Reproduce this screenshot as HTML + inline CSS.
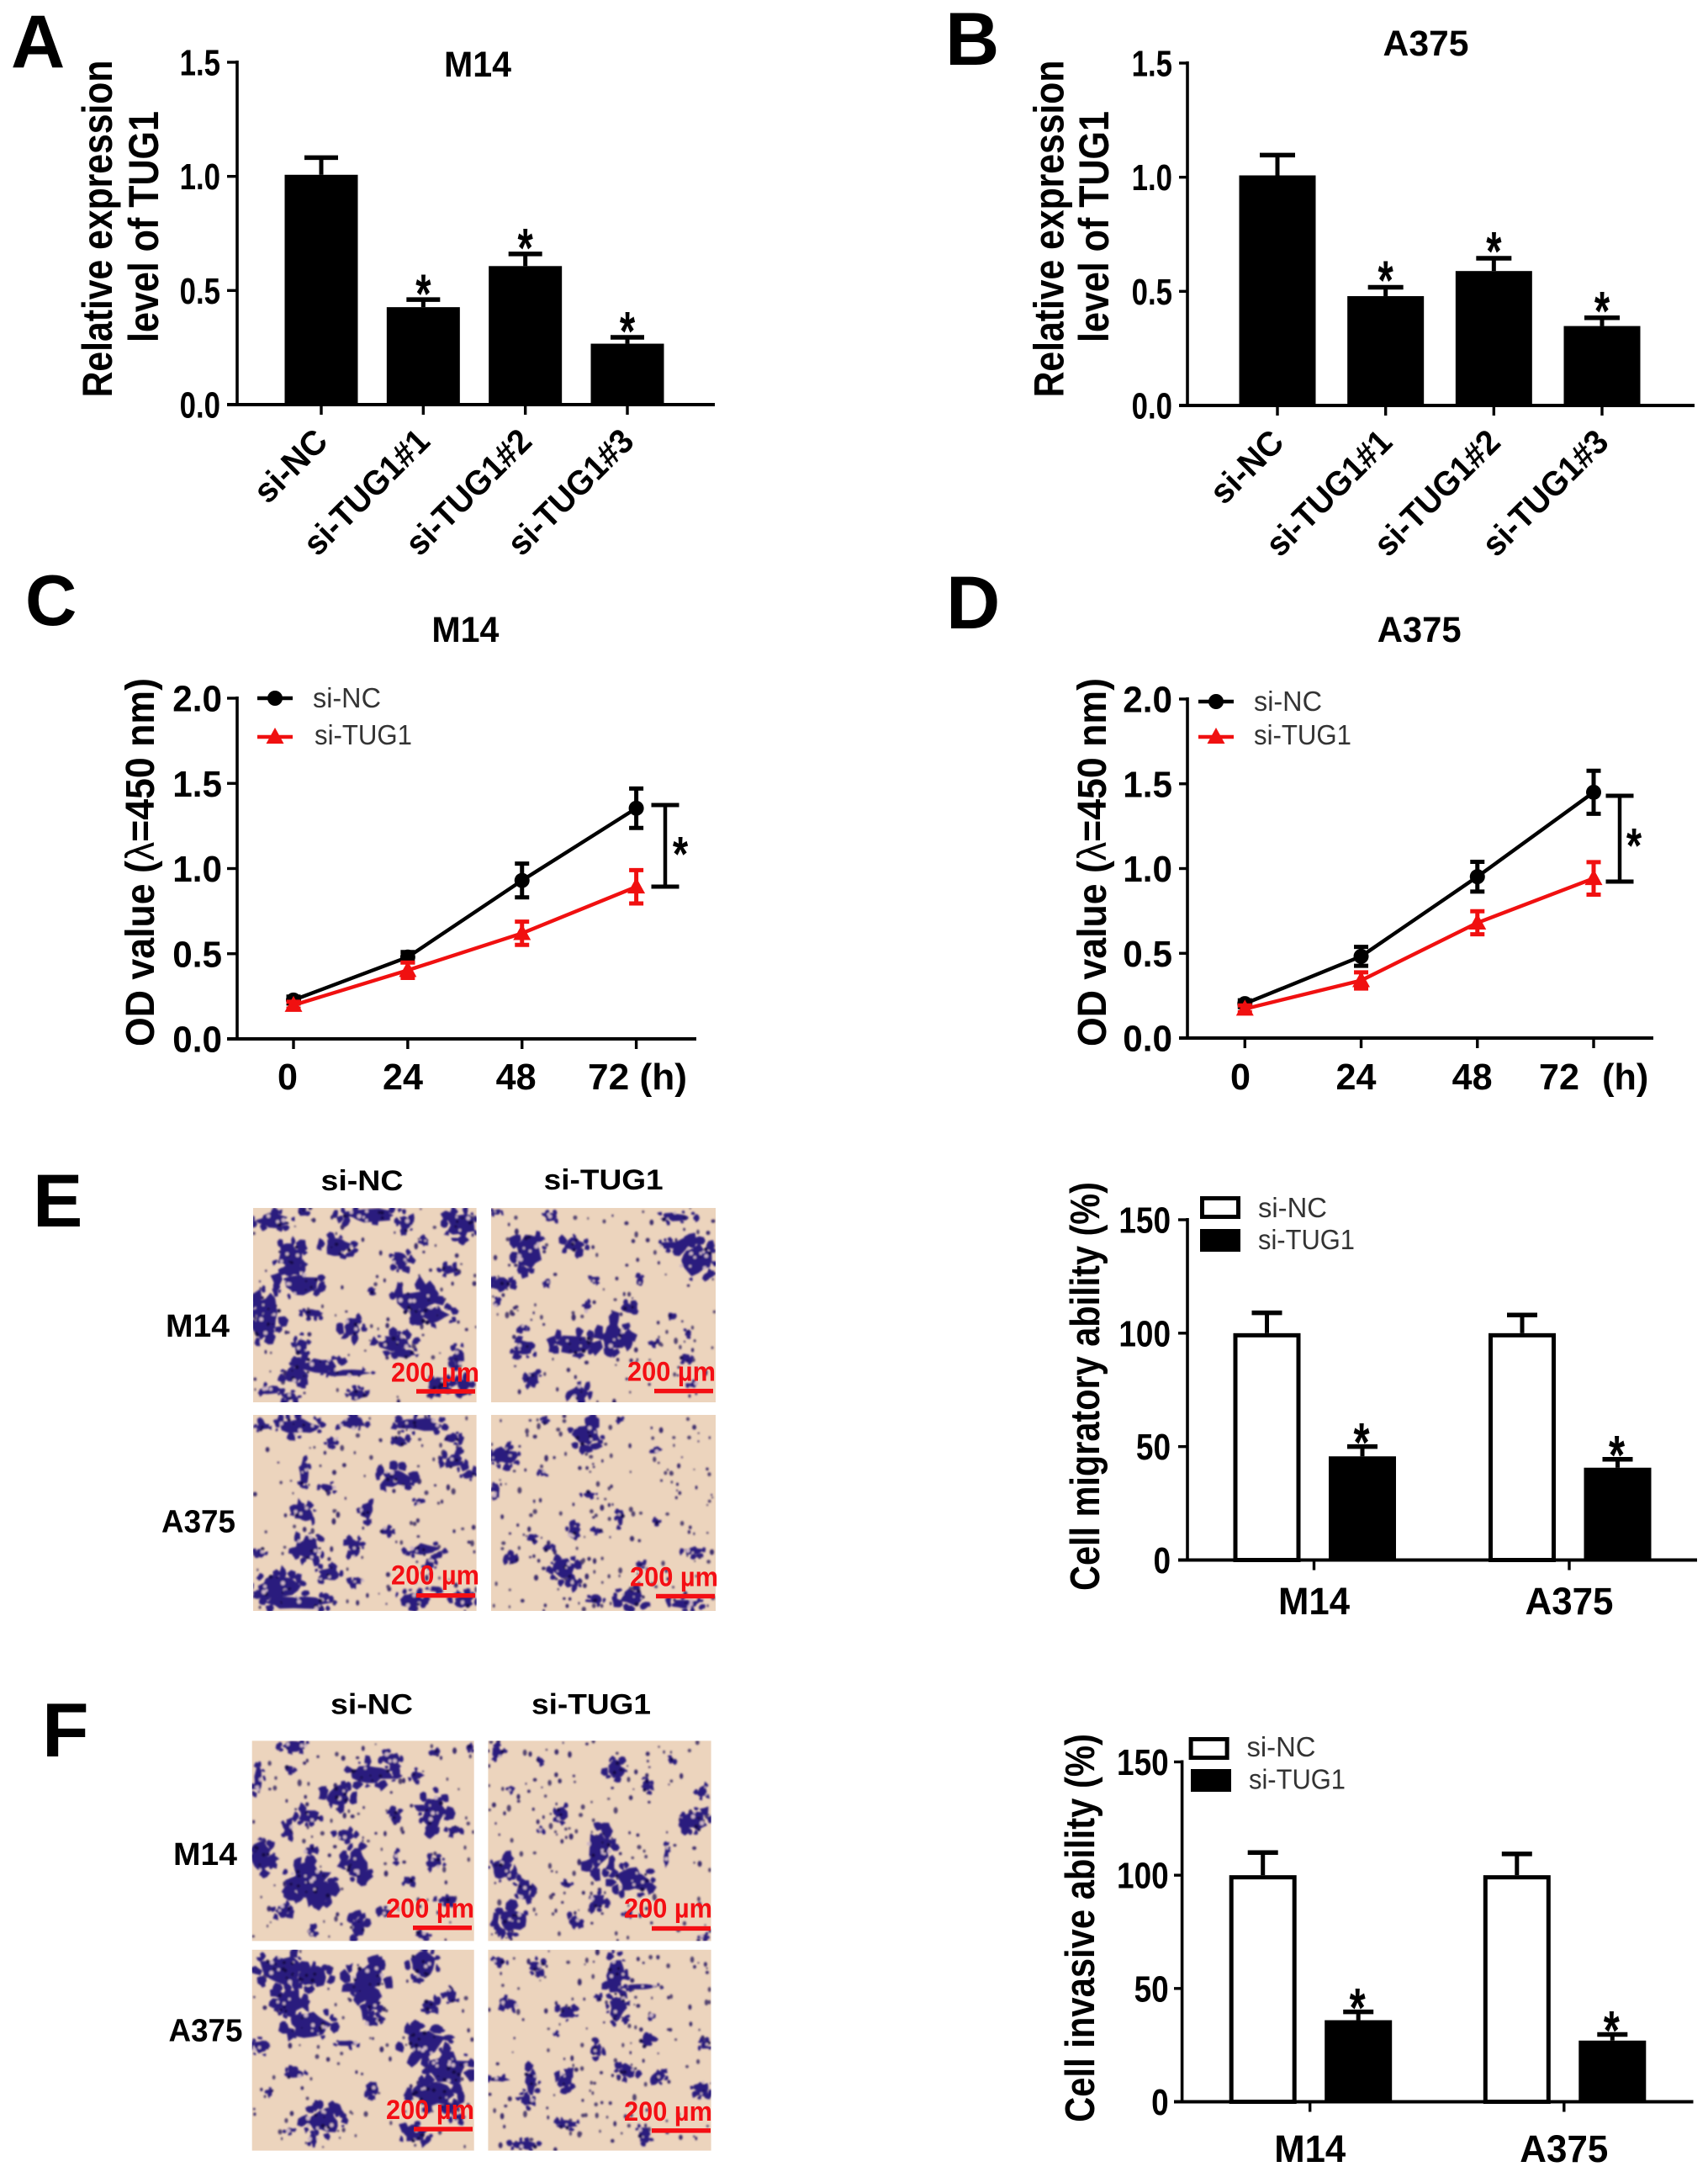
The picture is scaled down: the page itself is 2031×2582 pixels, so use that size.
<!DOCTYPE html>
<html lang="en">
<head>
<meta charset="utf-8">
<title>TUG1 knockdown figure</title>
<style>
html,body{margin:0;padding:0;background:#fff}
svg{display:block}
text{font-family:"Liberation Sans",Arial,sans-serif}
</style>
</head>
<body>
<svg id="figure" xmlns="http://www.w3.org/2000/svg" width="2031" height="2582" viewBox="0 0 2031 2582">
<rect width="2031" height="2582" fill="#fff"/>
<defs><filter id="soft" x="-5%" y="-5%" width="110%" height="110%"><feGaussianBlur stdDeviation="1.1"/></filter></defs>
</svg>
<script>
/* ---------- chart data ---------- */
const expressionCategories = ['si-NC','si-TUG1#1','si-TUG1#2','si-TUG1#3'];
const expressionTicks = ['0.0','0.5','1.0','1.5'];
const panelAValues = [1.007,0.427,0.607,0.267];
const panelAErrors = [0.075,0.033,0.053,0.028];
const panelBValues = [1.008,0.479,0.589,0.348];
const panelBErrors = [0.089,0.039,0.056,0.036];

const odTimepoints = [0,24,48,72];
const odTicks = ['0.0','0.5','1.0','1.5','2.0'];
const panelCControl = [0.228,0.48,0.93,1.354];
const panelCControlErr = [0.02,0.03,0.099,0.116];
const panelCTreated = [0.198,0.403,0.62,0.893];
const panelCTreatedErr = [0.02,0.045,0.068,0.098];
const panelDControl = [0.203,0.482,0.952,1.45];
const panelDControlErr = [0.02,0.056,0.088,0.127];
const panelDTreated = [0.172,0.34,0.68,0.942];
const panelDTreatedErr = [0.02,0.048,0.068,0.096];

const abilityGroups = ['M14','A375'];
const abilityTicks = ['0','50','100','150'];
const migrationControl = [100,100];
const migrationControlErr = [9,8];
const migrationTreated = [45.7,40.7];
const migrationTreatedErr = [4.3,3.7];
const invasionControl = [100,100];
const invasionControlErr = [10,9.4];
const invasionTreated = [36,27];
const invasionTreatedErr = [3.7,2.7];

/* ---------- micrograph cluster sketches: [x, y, rx, ry] in a 0-1568 sketch grid ---------- */
const clustersE1 = [[565,280,40,25],[630,258,15,12],[770,265,70,22],[840,290,15,25],[955,295,32,42],[700,360,35,28],[600,390,30,45],[620,470,45,40],[555,560,30,70],[545,600,20,50],[650,560,25,15],[625,660,15,35],[660,720,50,30],[610,745,25,30],[720,740,50,12],[730,600,22,35],[830,400,20,30],[930,430,20,15],[860,530,45,50],[900,565,40,30],[820,650,40,30],[845,680,20,15],[770,490,10,10],[910,775,25,25],[950,690,15,35],[740,805,20,20],[560,790,25,15],[600,810,20,15],[880,345,10,15],[960,780,15,30]];
const clustersE2 = [[1095,375,30,55],[1190,355,25,25],[1140,270,15,15],[1400,270,40,15],[1440,400,38,55],[1030,255,10,10],[1040,475,22,25],[1385,355,20,15],[1190,650,45,35],[1272,630,30,45],[1088,665,25,25],[1105,760,15,25],[1200,800,22,25],[1350,650,12,10],[1300,545,14,20],[1215,540,6,20],[1325,465,8,20],[1230,460,8,15],[1130,470,8,8],[1425,620,8,12],[1420,695,12,15],[1435,775,10,10],[1085,605,10,12],[1030,530,8,12],[1390,565,8,8]];
const clustersE3 = [[620,900,45,30],[690,945,15,15],[730,890,30,20],[870,895,50,25],[830,945,15,20],[935,935,18,18],[940,1005,25,25],[970,1045,15,15],[820,1055,35,35],[630,1040,12,40],[680,1085,18,15],[630,1165,22,28],[760,1155,15,30],[870,1125,12,10],[800,1215,15,12],[640,1265,30,40],[680,1345,25,25],[735,1265,15,30],[880,1270,40,20],[890,1315,12,25],[575,1380,50,35],[620,1430,70,25],[540,1280,12,15],[850,1420,30,25],[960,1425,25,25],[900,1390,15,10],[740,1365,15,15],[545,900,15,15]];
const clustersE4 = [[1045,990,28,30],[1215,925,32,40],[1130,885,10,10],[1285,880,8,8],[1355,975,12,8],[1030,1095,8,30],[1125,1040,8,12],[1220,1105,15,10],[1285,1175,8,30],[1190,1220,15,25],[1240,1215,12,10],[1100,1235,10,15],[1435,1275,22,15],[1065,1300,15,20],[1135,1265,12,10],[1170,1330,28,35],[1190,1370,12,15],[1310,1415,35,30],[1420,1435,35,18],[1235,1420,15,15],[1325,1315,10,12],[1360,1185,5,10]];
const clustersF1 = [[610,250,30,18],[535,360,12,50],[700,400,30,35],[770,335,50,35],[810,290,20,25],[860,340,12,20],[900,450,28,60],[640,465,25,25],[597,510,12,25],[715,525,22,18],[820,470,15,25],[900,610,20,20],[540,590,25,50],[640,665,50,55],[670,700,25,35],[740,610,28,50],[920,730,18,18],[845,665,12,15],[585,760,18,25],[740,810,20,35],[645,825,10,18],[875,835,15,15],[640,575,12,15],[820,590,6,20],[975,250,6,15],[900,270,8,10],[600,320,10,10],[940,510,15,15],[800,765,15,15]];
const clustersF2 = [[1275,320,20,30],[1120,295,8,10],[1340,370,10,25],[1390,295,8,10],[1030,270,15,20],[1440,480,28,35],[1455,390,12,20],[1240,570,30,70],[1165,460,15,25],[1310,665,40,45],[1040,630,25,35],[1085,690,18,35],[1240,730,18,25],[1060,790,32,42],[1190,790,14,20],[1175,680,10,8],[1120,510,5,10],[1060,380,8,8],[1300,770,10,10],[1380,590,3,40],[1455,840,12,10]];
const clustersF3 = [[580,940,45,55],[650,965,35,35],[600,1040,30,45],[640,1110,50,45],[760,970,40,55],[770,1040,20,35],[770,1100,20,20],[875,925,30,45],[890,1050,20,20],[935,1020,15,25],[880,1170,50,50],[930,1250,45,60],[900,1330,50,45],[670,1410,40,45],[650,1470,10,25],[540,1180,20,25],[610,1265,22,15],[770,1310,15,25],[720,1170,25,10],[560,1320,5,10],[600,1440,10,10],[860,1450,30,30],[950,1400,15,15]];
const clustersF4 = [[1110,930,18,22],[1035,915,15,15],[1275,960,20,70],[1280,1060,20,50],[1330,995,40,8],[1055,1050,18,18],[1175,1075,20,22],[1240,1030,6,15],[1460,1175,12,15],[1340,1165,15,18],[1235,1190,15,25],[1300,1255,22,25],[1365,1270,15,22],[1100,1290,15,45],[1090,1345,15,22],[1170,1285,18,28],[1035,1280,25,8],[1175,1420,25,15],[1335,1450,15,30],[1085,1485,30,15],[1455,1310,20,25],[1150,1140,5,8],[1350,1085,10,8]];

/* ---------- helpers ---------- */
const NS = 'http://www.w3.org/2000/svg';
const root = document.getElementById('figure');

function make(parent, tag, name, attrs) {
  const el = document.createElementNS(NS, tag);
  
  
  for (const k in attrs) el.setAttribute(k, attrs[k]);
  parent.appendChild(el);
  return el;
}
function group(name) { return make(root, 'g', name, {}); }
function label(parent, name, str, x, y, size, o) {
  o = o || {};
  const el = make(parent, 'text', name, {
    x: 0, y: 0, 'font-size': size,
    'font-weight': o.weight || 'bold',
    'text-anchor': o.anchor || 'middle',
    fill: o.fill || '#000'
  });
  el.innerHTML = str;
  let sx = o.sx || 1;
  if (o.width) sx = o.width / el.getComputedTextLength();
  el.setAttribute('transform', 'translate(' + x + ' ' + y + ') rotate(' + (o.rot || 0) + ') scale(' + sx + ' ' + (o.sy || 1) + ')');
  return el;
}
function line(parent, name, x1, y1, x2, y2, color, w) {
  return make(parent, 'line', name, { x1: x1, y1: y1, x2: x2, y2: y2, stroke: color, 'stroke-width': w });
}
function box(parent, name, x, y, w, h, fill, stroke, sw) {
  const a = { x: x, y: y, width: w, height: h, fill: fill };
  if (stroke) { a.stroke = stroke; a['stroke-width'] = sw; }
  return make(parent, 'rect', name, a);
}
function star(parent, name, cx, cy, size, sy) {
  const el = make(parent, 'text', name, { x: 0, y: size * 0.42, 'font-size': size, 'font-weight': 'bold', 'text-anchor': 'middle', fill: '#000' });
  el.textContent = '*';
  el.setAttribute('transform', 'translate(' + cx + ' ' + cy + ') scale(1 ' + sy + ')');
  return el;
}
function linearScale(d0, d1, r0, r1) { return function (v) { return r0 + (v - d0) / (d1 - d0) * (r1 - r0); }; }
function yAxis(g, xAxis, tickLeft, ticks, y, cfg) {
  line(g, 'y-axis-line', xAxis, y(+ticks[ticks.length - 1]) - 2, xAxis, y(+ticks[0]) + 2, '#000', 3.6);
  ticks.forEach(function (t) {
    line(g, 'y-axis-tick', tickLeft, y(+t), xAxis, y(+t), '#000', 3.4);
    label(g, 'y-tick-label', t, cfg.right, y(+t) + 15.5, 44, { anchor: 'end', sx: cfg.sx });
  });
}

/* ---------- panel letters ---------- */
const letters = group('panel-letters');
label(letters, 'panel-label-a', 'A', 13, 80, 89, { anchor: 'start' });
label(letters, 'panel-label-b', 'B', 1124, 77, 89, { anchor: 'start' });
label(letters, 'panel-label-c', 'C', 30, 743, 85, { anchor: 'start' });
label(letters, 'panel-label-d', 'D', 1125, 747, 89, { anchor: 'start' });
label(letters, 'panel-label-e', 'E', 39, 1458, 89, { anchor: 'start' });
label(letters, 'panel-label-f', 'F', 50, 2088, 91, { anchor: 'start' });

/* ---------- expression bar charts (A, B) ---------- */
function expressionChart(cfg, values, errors) {
  const g = group(cfg.name);
  const y = linearScale(0, 1.5, cfg.y0, cfg.y15);
  const x = linearScale(0, 3, cfg.first, cfg.last);
  label(g, 'chart-title', cfg.title, cfg.titleX, cfg.titleY, 43, { width: cfg.titleW });
  label(g, 'y-axis-title-line-1', 'Relative expression', cfg.t1x, 272, 50, { rot: -90, width: 401 });
  label(g, 'y-axis-title-line-2', 'level of TUG1', cfg.t2x, 269.5, 50, { rot: -90, width: 275 });
  expressionCategories.forEach(function (c, i) {
    const cx = x(i);
    const top = y(values[i]);
    const et = y(values[i] + errors[i]);
    line(g, 'error-bar-stem', cx, top, cx, et, '#000', 5);
    line(g, 'error-bar-cap', cx - cfg.cap / 2, et, cx + cfg.cap / 2, et, '#000', 5.5);
    box(g, 'bar-' + c, cx - cfg.bw / 2, top, cfg.bw, cfg.y0 - top, '#000');
    if (i > 0) star(g, 'significance-star', cx, et - cfg.starGap, 47, 1.4);
    line(g, 'x-axis-tick', cx, cfg.y0, cx, cfg.y0 + 12, '#000', 3.4);
    label(g, 'x-tick-label', c, cx + 10, cfg.y0 + 46, 41, { anchor: 'end', rot: -45, width: i === 0 ? 104 : 192 });
  });
  line(g, 'x-axis-line', cfg.tickLeft, cfg.y0, cfg.right, cfg.y0, '#000', 4);
  yAxis(g, cfg.axisX, cfg.tickLeft, expressionTicks, y, { right: cfg.labelRight, sx: 0.79 });
}
expressionChart({ name: 'panel-a-chart', title: 'M14', titleX: 568, titleY: 91, titleW: 80, y0: 481, y15: 74, first: 382, last: 746, bw: 87, cap: 40, axisX: 282, tickLeft: 270, right: 850, labelRight: 262, t1x: 133, t2x: 188, starGap: 12 }, panelAValues, panelAErrors);
expressionChart({ name: 'panel-b-chart', title: 'A375', titleX: 1695.5, titleY: 66, titleW: 102, y0: 482, y15: 75, first: 1519, last: 1905, bw: 91, cap: 42, axisX: 1412, tickLeft: 1402, right: 2015, labelRight: 1394, t1x: 1264.5, t2x: 1318, starGap: 13 }, panelBValues, panelBErrors);

/* ---------- OD line charts (C, D) ---------- */
function series(g, name, x, y, vals, errs, color, shape) {
  const pts = vals.map(function (v, i) { return x(odTimepoints[i]) + ',' + y(v); }).join(' ');
  make(g, 'polyline', name + '-line', { points: pts, fill: 'none', stroke: color, 'stroke-width': 4.4 });
  vals.forEach(function (v, i) {
    const cx = x(odTimepoints[i]);
    const hi = y(v + errs[i]);
    const lo = y(v - errs[i]);
    line(g, name + '-error-stem', cx, hi, cx, lo, color, 5);
    line(g, name + '-error-cap-top', cx - 8.5, hi, cx + 8.5, hi, color, 5);
    line(g, name + '-error-cap-bottom', cx - 8.5, lo, cx + 8.5, lo, color, 5);
    marker(g, name + '-point', cx, y(v), color, shape);
  });
}
function marker(g, name, cx, cy, color, shape) {
  if (shape === 'circle') make(g, 'circle', name, { cx: cx, cy: cy, r: 9, fill: color });
  else make(g, 'polygon', name, { points: (cx - 10.5) + ',' + (cy + 8) + ' ' + (cx + 10.5) + ',' + (cy + 8) + ' ' + cx + ',' + (cy - 11), fill: color });
}
function odChart(cfg, a, aErr, b, bErr) {
  const g = group(cfg.name);
  const y = linearScale(0, 2, cfg.y0, cfg.y2);
  const x = linearScale(0, 72, cfg.first, cfg.last);
  label(g, 'chart-title', cfg.title, cfg.titleX, 763, 43, { width: cfg.titleW });
  label(g, 'y-axis-title', 'OD value (<tspan font-weight="normal">λ</tspan>=450 nm)', cfg.tx, 1025, 48, { rot: -90, width: 438 });
  line(g, 'x-axis-line', cfg.tickLeft, cfg.y0, cfg.right, cfg.y0, '#000', 4);
  yAxis(g, cfg.axisX, cfg.tickLeft, odTicks, y, { right: cfg.labelRight, sx: 0.96 });
  odTimepoints.forEach(function (t, i) {
    line(g, 'x-axis-tick', x(t), cfg.y0, x(t), cfg.y0 + 12, '#000', 3.4);
    if (i < 3 || !cfg.joined) label(g, 'x-tick-label', String(t), cfg.xl[i], 1295, 44, { sx: 0.98 });
  });
  if (cfg.joined) label(g, 'x-tick-label-with-unit', '72 (h)', cfg.xl[3], 1295, 44, { width: 118 });
  else label(g, 'x-axis-unit', '(h)', cfg.unitX, 1295, 44, { sx: 0.98 });
  series(g, 'si-nc', x, y, a, aErr, '#000', 'circle');
  series(g, 'si-tug1', x, y, b, bErr, '#f01010', 'triangle');
  const bx = cfg.bracketX, by1 = cfg.bracketTop, by2 = cfg.bracketBottom;
  line(g, 'significance-bracket-stem', bx, by1, bx, by2, '#000', 4.5);
  line(g, 'significance-bracket-cap', bx - 16.5, by1, bx + 16.5, by1, '#000', 5);
  line(g, 'significance-bracket-cap', bx - 16.5, by2, bx + 16.5, by2, '#000', 5);
  star(g, 'significance-star', cfg.starX, cfg.starY, 47, 1.25);
  const lx1 = cfg.legX, lx2 = cfg.legX + 42;
  line(g, 'legend-line-si-nc', lx1, cfg.legY1, lx2, cfg.legY1, '#000', 4.4);
  marker(g, 'legend-marker-si-nc', (lx1 + lx2) / 2, cfg.legY1, '#000', 'circle');
  line(g, 'legend-line-si-tug1', lx1, cfg.legY2, lx2, cfg.legY2, '#f01010', 4.4);
  marker(g, 'legend-marker-si-tug1', (lx1 + lx2) / 2, cfg.legY2, '#f01010', 'triangle');
  label(g, 'legend-label-si-nc', 'si-NC', cfg.legT1, cfg.legY1 + 11, 33, { anchor: 'start', weight: 'normal', fill: '#333', width: 81 });
  label(g, 'legend-label-si-tug1', 'si-TUG1', cfg.legT2, 885, 33, { anchor: 'start', weight: 'normal', fill: '#333', width: 116 });
}
odChart({ name: 'panel-c-chart', title: 'M14', titleX: 553.4, titleW: 80, y0: 1235, y2: 830, first: 349, last: 756.6, axisX: 282, tickLeft: 270, right: 828, labelRight: 264, tx: 183, xl: [342, 479, 613.6, 758], joined: true, bracketX: 791, bracketTop: 957, bracketBottom: 1054, starX: 809, starY: 1011, legX: 306, legY1: 830, legY2: 876, legT1: 372, legT2: 374 }, panelCControl, panelCControlErr, panelCTreated, panelCTreatedErr);
odChart({ name: 'panel-d-chart', title: 'A375', titleX: 1687.7, titleW: 100, y0: 1234, y2: 831, first: 1480.3, last: 1895, axisX: 1412, tickLeft: 1402, right: 1966, labelRight: 1394, tx: 1315, xl: [1475, 1612.5, 1750.6, 1854], joined: false, unitX: 1932.7, bracketX: 1926, bracketTop: 946, bracketBottom: 1048, starX: 1943, starY: 1001, legX: 1425, legY1: 834, legY2: 876, legT1: 1491, legT2: 1491 }, panelDControl, panelDControlErr, panelDTreated, panelDTreatedErr);

/* ---------- ability bar charts (E, F) ---------- */
function abilityChart(cfg, ctrl, ctrlErr, trt, trtErr) {
  const g = group(cfg.name);
  const y = linearScale(0, 150, cfg.y0, cfg.y150);
  const x = linearScale(0, 1, cfg.tick0, cfg.tick1);
  label(g, 'y-axis-title', cfg.ytitle, cfg.tx, cfg.tcy, 49, { rot: -90, width: cfg.tw });
  abilityGroups.forEach(function (name, i) {
    const c = x(i);
    const cxA = c - 56, cxB = c + 57.5;
    const topA = y(ctrl[i]), topB = y(trt[i]);
    const eA = y(ctrl[i] + ctrlErr[i]), eB = y(trt[i] + trtErr[i]);
    line(g, 'error-bar-stem', cxA, topA, cxA, eA, '#000', 5);
    line(g, 'error-bar-cap', cxA - 18, eA, cxA + 18, eA, '#000', 5.5);
    box(g, 'bar-si-nc-' + name, cxA - 37.5, topA + 2.5, 75, cfg.y0 - topA - 2.5, '#fff', '#000', 5);
    line(g, 'error-bar-stem', cxB, topB, cxB, eB, '#000', 5);
    line(g, 'error-bar-cap', cxB - 18, eB, cxB + 18, eB, '#000', 5.5);
    box(g, 'bar-si-tug1-' + name, cxB - 40, topB, 80, cfg.y0 - topB, '#000');
    star(g, 'significance-star', cxB - 1, eB - 10, 49, 1.35);
    line(g, 'x-axis-tick', c, cfg.y0, c, cfg.y0 + 12, '#000', 3.4);
    label(g, 'x-tick-label', name, c, cfg.labelY, 45, { width: i === 0 ? 85 : 105 });
  });
  line(g, 'x-axis-line', cfg.tickLeft, cfg.y0, cfg.right, cfg.y0, '#000', 4);
  yAxis(g, cfg.axisX, cfg.tickLeft, abilityTicks, y, { right: cfg.labelRight, sx: 0.84 });
  box(g, 'legend-swatch-si-nc', cfg.s1x + 2.5, cfg.s1y + 2.5, 43, 22, '#fff', '#000', 5);
  box(g, 'legend-swatch-si-tug1', cfg.s2x, cfg.s2y, 48, 27, '#000');
  label(g, 'legend-label-si-nc', 'si-NC', cfg.l1x, cfg.l1y, 33, { anchor: 'start', weight: 'normal', fill: '#333', width: 82 });
  label(g, 'legend-label-si-tug1', 'si-TUG1', cfg.l2x, cfg.l2y, 33, { anchor: 'start', weight: 'normal', fill: '#333', width: 115 });
}
abilityChart({ name: 'panel-e-migration-chart', ytitle: 'Cell migratory ability (%)', tx: 1307, tcy: 1648, tw: 486, y0: 1854.5, y150: 1450, tick0: 1562.5, tick1: 1866, axisX: 1412, tickLeft: 1401, right: 2018, labelRight: 1392, labelY: 1919, s1x: 1427, s1y: 1422, s2x: 1427, s2y: 1461, l1x: 1496, l1y: 1447, l2x: 1496, l2y: 1485 }, migrationControl, migrationControlErr, migrationTreated, migrationTreatedErr);
abilityChart({ name: 'panel-f-invasion-chart', ytitle: 'Cell invasive ability (%)', tx: 1301, tcy: 2292, tw: 462, y0: 2498.5, y150: 2094.5, tick0: 1557.7, tick1: 1859.8, axisX: 1405.6, tickLeft: 1396, right: 2013.5, labelRight: 1389.7, labelY: 2570, s1x: 1413.6, s1y: 2065, s2x: 1416, s2y: 2103, l1x: 1482.5, l1y: 2088, l2x: 1485, l2y: 2126.5 }, invasionControl, invasionControlErr, invasionTreated, invasionTreatedErr);

/* ---------- micrographs ---------- */
function seeded(a) {
  return function () {
    a |= 0; a = a + 0x6D2B79F5 | 0;
    let t = Math.imul(a ^ a >>> 15, 1 | a);
    t = t + Math.imul(t ^ t >>> 7, 61 | t) ^ t;
    return ((t ^ t >>> 14) >>> 0) / 4294967296;
  };
}
function lump(field, rnd, cx, cy, rx, ry, n, lo, hi) {
  const pts = [];
  for (let i = 0; i < n; i++) {
    const ang = i / n * Math.PI * 2;
    const f = lo + rnd() * (hi - lo);
    pts.push((cx + Math.cos(ang) * rx * f).toFixed(1) + ',' + (cy + Math.sin(ang) * ry * f).toFixed(1));
  }
  make(field, 'polygon', 'cell-cluster-lobe', { points: pts.join(' '), fill: '#2b1b7e' });
}
function micrograph(parent, cfg) {
  const g = make(parent, 'g', cfg.name, {});
  box(g, 'micrograph-background', cfg.x, cfg.y, cfg.w, cfg.h, '#ecd4bd');
  const clipHost = make(g, 'svg', 'micrograph-field', { x: cfg.x, y: cfg.y, width: cfg.w, height: cfg.h, viewBox: '0 0 ' + cfg.w + ' ' + cfg.h });
  const field = make(clipHost, 'g', 'cell-layer', { filter: 'url(#soft)' });
  const rnd = seeded(cfg.seed);
  const kx = cfg.w / (cfg.zx1 - cfg.zx0), ky = cfg.h / (cfg.zy1 - cfg.zy0);
  for (let i = 0; i < cfg.specks; i++) {
    const r = 1 + rnd() * 1.6;
    make(field, 'ellipse', 'cell-speck', {
      cx: rnd() * cfg.w, cy: rnd() * cfg.h, rx: r, ry: r * (0.8 + rnd() * 0.9),
      fill: rnd() < 0.5 ? '#3a2a6a' : '#52436f'
    });
  }
  cfg.clusters.forEach(function (c) {
    const cx = (c[0] - cfg.zx0) * kx, cy = (c[1] - cfg.zy0) * ky;
    const rx = Math.max(c[2] * kx * 1.08, 3.5), ry = Math.max(c[3] * ky * 1.08, 3.5);
    lump(field, rnd, cx, cy, rx * 0.85, ry * 0.85, 14, 0.62, 1.12);
    const lobes = Math.min(14, Math.round(rx * ry / 28) + 2);
    for (let i = 0; i < lobes; i++) {
      const a = rnd() * Math.PI * 2;
      const px = cx + Math.cos(a) * rx * 1.0;
      const py = cy + Math.sin(a) * ry * 1.0;
      const s = 2 + rnd() * Math.min(rx, ry) * 0.3;
      lump(field, rnd, px, py, s, s * (0.7 + rnd() * 0.8), 7, 0.5, 1.3);
    }
    const area = rx * ry;
    for (let i = 0; i < area / 45; i++) {
      const a = rnd() * Math.PI * 2, d = Math.sqrt(rnd()) * 0.8;
      const light = rnd() < 0.5;
      make(field, 'circle', light ? 'cluster-gap' : 'cluster-dark-core', {
        cx: cx + Math.cos(a) * rx * d, cy: cy + Math.sin(a) * ry * d, r: 1 + rnd() * 1.6,
        fill: light ? '#cdb5c6' : '#170f4a'
      });
    }
  });
  label(g, 'scale-bar-label', '200 µm', cfg.tx, cfg.ty, 32, { anchor: 'start', fill: '#f40f14', width: 105 });
  box(g, 'scale-bar', cfg.bx, cfg.by - 2.7, 70, 5.4, '#f40f14');
}

const panelE = group('panel-e-micrographs');
label(panelE, 'column-label-si-nc', 'si-NC', 430.5, 1415, 34, { width: 98 });
label(panelE, 'column-label-si-tug1', 'si-TUG1', 717.6, 1414, 34, { width: 142 });
label(panelE, 'row-label-m14', 'M14', 235, 1589, 38, { width: 76 });
label(panelE, 'row-label-a375', 'A375', 236, 1821.6, 38, { width: 88 });
micrograph(panelE, { name: 'micrograph-e-m14-si-nc', x: 301, y: 1436, w: 265.6, h: 231, zx0: 525, zx1: 987, zy0: 243, zy1: 828, clusters: clustersE1, specks: 110, seed: 11, tx: 465, ty: 1642.5, bx: 495, by: 1654 });
micrograph(panelE, { name: 'micrograph-e-m14-si-tug1', x: 584, y: 1436, w: 267, h: 231, zx0: 1018, zx1: 1482, zy0: 243, zy1: 828, clusters: clustersE2, specks: 130, seed: 22, tx: 746, ty: 1641.7, bx: 778, by: 1653.6 });
micrograph(panelE, { name: 'micrograph-e-a375-si-nc', x: 301, y: 1682, w: 265.6, h: 233, zx0: 525, zx1: 987, zy0: 866, zy1: 1455, clusters: clustersE3, specks: 120, seed: 33, tx: 465, ty: 1883.7, bx: 495, by: 1896.7 });
micrograph(panelE, { name: 'micrograph-e-a375-si-tug1', x: 584, y: 1682, w: 267, h: 233, zx0: 1018, zx1: 1482, zy0: 866, zy1: 1455, clusters: clustersE4, specks: 190, seed: 44, tx: 749, ty: 1885.7, bx: 780, by: 1897.5 });

const panelF = group('panel-f-micrographs');
label(panelF, 'column-label-si-nc', 'si-NC', 442, 2037.6, 34, { width: 98 });
label(panelF, 'column-label-si-tug1', 'si-TUG1', 703, 2037.6, 34, { width: 142 });
label(panelF, 'row-label-m14', 'M14', 244, 2217, 38, { width: 76 });
label(panelF, 'row-label-a375', 'A375', 244.5, 2426.5, 38, { width: 88 });
micrograph(panelF, { name: 'micrograph-f-m14-si-nc', x: 299.7, y: 2069.4, w: 264, h: 238, zx0: 522, zx1: 982, zy0: 233, zy1: 853, clusters: clustersF1, specks: 110, seed: 55, tx: 459, ty: 2279.4, bx: 491, by: 2291.7 });
micrograph(panelF, { name: 'micrograph-f-m14-si-tug1', x: 580.4, y: 2069.4, w: 265.2, h: 238, zx0: 1011, zx1: 1473, zy0: 233, zy1: 853, clusters: clustersF2, specks: 170, seed: 66, tx: 742, ty: 2279.4, bx: 775, by: 2292.5 });
micrograph(panelF, { name: 'micrograph-f-a375-si-nc', x: 299.7, y: 2317.8, w: 264, h: 238.8, zx0: 522, zx1: 982, zy0: 880, zy1: 1502, clusters: clustersF3, specks: 110, seed: 77, tx: 459, ty: 2519, bx: 492, by: 2531 });
micrograph(panelF, { name: 'micrograph-f-a375-si-tug1', x: 580.4, y: 2317.8, w: 265.2, h: 238.8, zx0: 1011, zx1: 1473, zy0: 880, zy1: 1502, clusters: clustersF4, specks: 160, seed: 88, tx: 742, ty: 2521, bx: 775, by: 2532.8 });
</script>
</body>
</html>
